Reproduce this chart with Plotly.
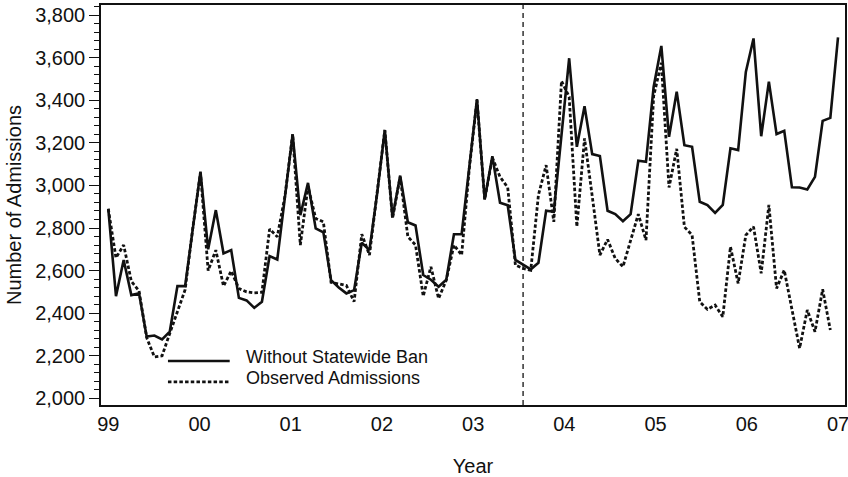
import plotly.graph_objects as go

# ---- data (monthly, Jan 1999 onward) ----
without_ban = [
    2890, 2480, 2650, 2485, 2493, 2290, 2295, 2277, 2313, 2527, 2527, 2806,
    3065, 2700, 2884, 2681, 2696, 2472, 2460, 2425, 2454, 2668, 2652, 2946,
    3240, 2860, 3012, 2798, 2780, 2555, 2521, 2493, 2508, 2731, 2696, 2962,
    3260, 2850, 3046, 2827, 2812, 2579, 2557, 2524, 2557, 2771, 2771, 3087,
    3405, 2934, 3137, 2919, 2907, 2650, 2630, 2606, 2637, 2881, 2876, 3236,
    3597, 3181, 3372, 3147, 3138, 2881, 2865, 2832, 2865, 3116, 3111, 3463,
    3655, 3228, 3440, 3189, 3181, 2923, 2908, 2871, 2908, 3174, 3166, 3533,
    3690, 3231, 3487, 3241, 3256, 2991, 2990, 2981, 3040, 3303, 3317, 3695,
]
observed = [
    2890, 2660, 2720, 2550, 2505, 2285, 2195, 2200, 2305, 2410, 2510, 2800,
    3060, 2600, 2696, 2527, 2598, 2516, 2500, 2495, 2498, 2795, 2759, 2950,
    3240, 2720, 2995, 2845, 2829, 2545, 2537, 2530, 2454, 2771, 2673, 2960,
    3260, 2845, 3040, 2759, 2720, 2480, 2618, 2469, 2555, 2720, 2673, 3080,
    3400, 2934, 3130, 3040, 2990, 2626, 2610, 2602, 2955, 3095, 2829, 3490,
    3416, 2806, 3221, 2950, 2673, 2746, 2657, 2618, 2743, 2865, 2743, 3420,
    3575, 2990, 3172, 2805, 2767, 2454, 2418, 2438, 2383, 2712, 2540, 2767,
    2806, 2587, 2908, 2516, 2602, 2420, 2235, 2415, 2313, 2512, 2321,
]
months_without = list(range(len(without_ban)))
months_observed = list(range(len(observed)))

year_labels = ["99", "00", "01", "02", "03", "04", "05", "06", "07"]
n_span = len(without_ban) - 1
year_tickvals = [k * n_span / 8 for k in range(len(year_labels))]
ban_month = 54  # statewide ban start (mid-2003)

series_names = ["Without Statewide Ban", "Observed Admissions"]

FONT = "Liberation Sans, Arial, sans-serif"
INK = "#111111"
SOLID_W = 2.6
DOT_W = 2.8
DOT_DASH = "3.5px,2.2px"

fig = go.Figure()
fig.add_trace(go.Scatter(
    x=months_without, y=without_ban, mode="lines", name=series_names[0],
    line=dict(color=INK, width=SOLID_W), showlegend=False,
))
fig.add_trace(go.Scatter(
    x=months_observed, y=observed, mode="lines", name=series_names[1],
    line=dict(color=INK, width=DOT_W, dash=DOT_DASH), showlegend=False,
))

# vertical dashed line at ban start
fig.add_shape(type="line", xref="x", yref="paper", x0=ban_month, x1=ban_month,
              y0=0, y1=1, line=dict(color=INK, width=1.3, dash="5px,4px"))

# manual legend (tight spacing like the reference)
leg_x0, leg_x1 = 0.090, 0.173
leg_y = [0.110, 0.058]
fig.add_shape(type="line", xref="paper", yref="paper", x0=leg_x0, x1=leg_x1,
              y0=leg_y[0], y1=leg_y[0], line=dict(color=INK, width=SOLID_W))
fig.add_shape(type="line", xref="paper", yref="paper", x0=leg_x0, x1=leg_x1,
              y0=leg_y[1], y1=leg_y[1], line=dict(color=INK, width=DOT_W, dash=DOT_DASH))
for name, yy in zip(series_names, [0.1195, 0.0665]):
    fig.add_annotation(xref="paper", yref="paper", x=0.194, y=yy, text=name,
                       showarrow=False, xanchor="left", yanchor="middle",
                       borderpad=0,
                       font=dict(family=FONT, size=18, color=INK))

fig.update_layout(
    width=848, height=477,
    margin=dict(l=101, r=3, t=5, b=72),
    paper_bgcolor="white", plot_bgcolor="white",
    font=dict(family=FONT, size=20, color=INK),
    showlegend=False,
)
fig.update_xaxes(
    automargin=False,
    range=[-0.95, n_span + 0.91],
    tickvals=year_tickvals, ticktext=year_labels, ticks="",
    ticklabeloverflow="allow",
    showgrid=False, zeroline=False,
    showline=True, linecolor=INK, linewidth=1.5, mirror=True,
    title=dict(text="Year", standoff=25, font=dict(size=20)),
    tickfont=dict(size=20),
)
fig.update_yaxes(
    automargin=False,
    range=[1969, 3847],
    tickvals=list(range(2000, 3801, 200)), tickformat=",d",
    ticks="outside", ticklen=10, tickwidth=1.3, tickcolor=INK,
    minor=dict(dtick=40, tick0=2000, ticks="outside", ticklen=5, tickwidth=1.1, tickcolor=INK),
    showgrid=False, zeroline=False,
    showline=True, linecolor=INK, linewidth=1.5, mirror=True,
    title=dict(text="Number of Admissions", standoff=8, font=dict(size=20)),
    tickfont=dict(size=20),
)

fig.write_html(
    "out.html",
    config={"displayModeBar": False},
    post_script="document.body.style.margin='0';document.body.style.overflow='hidden';",
)
